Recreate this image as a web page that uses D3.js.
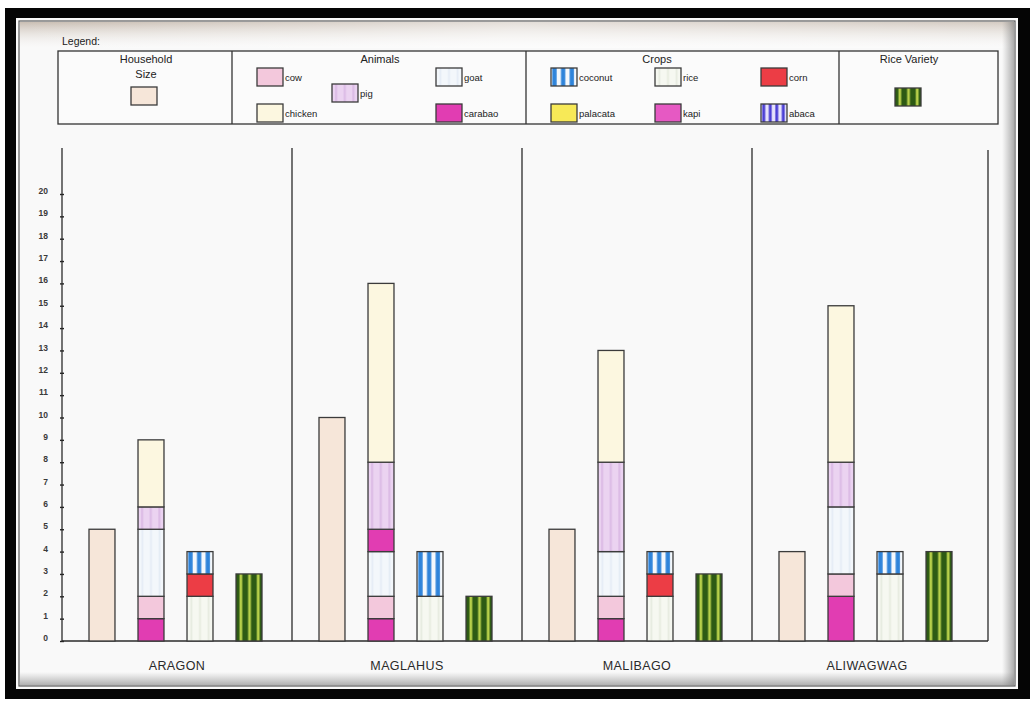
<!DOCTYPE html>
<html>
<head>
<meta charset="utf-8">
<script src="https://cdn.jsdelivr.net/npm/d3@7"></script>
<style>
  body { margin: 0; background: #fff; }
  svg { display: block; font-family: "Liberation Sans", Arial, sans-serif; }
</style>
</head>
<body>
<svg id="chart" width="1030" height="702"></svg>
<script>
// ---- data ----
const villages = ["ARAGON", "MAGLAHUS", "MALIBAGO", "ALIWAGWAG"];
const barKinds = ["household", "animals", "crops", "riceVariety"];

const householdSize = [5, 10, 5, 4];

// animals, stacked bottom to top
const carabao  = [1, 1, 1, 2];
const cow      = [1, 1, 1, 1];
const goat     = [3, 2, 2, 3];
const carabao2 = [0, 1, 0, 0];
const pig      = [1, 3, 4, 2];
const chicken  = [3, 8, 5, 7];

// crops, stacked bottom to top
const rice     = [2, 2, 2, 3];
const corn     = [1, 0, 1, 0];
const coconut  = [1, 2, 1, 1];
const palacata = [0, 0, 0, 0];
const kapi     = [0, 0, 0, 0];
const abaca    = [0, 0, 0, 0];

const riceVariety = [3, 2, 3, 4];

const yTicks = d3.range(0, 21);

const animalKeys = ["carabao", "cow", "goat", "carabao2", "pig", "chicken"];
const animalValues = { carabao, cow, goat, carabao2, pig, chicken };
const cropKeys = ["rice", "corn", "coconut", "palacata", "kapi", "abaca"];
const cropValues = { rice, corn, coconut, palacata, kapi, abaca };

// ---- styles ----
const fills = {
  household: "#f6e6d9",
  cow: "#f3c8dc",
  pig: "url(#pat-pig)",
  chicken: "#fcf7e0",
  goat: "url(#pat-goat)",
  carabao: "#e13db2",
  carabao2: "#e13db2",
  coconut: "url(#pat-coconut)",
  rice: "url(#pat-rice)",
  corn: "#ec3d45",
  palacata: "#f7e957",
  kapi: "#e659c3",
  abaca: "url(#pat-abaca)",
  riceVariety: "url(#pat-variety)"
};
const edge = "#3b3b3b";

const svg = d3.select("#chart");
const defs = svg.append("defs");

// vertical stripe pattern sized to each shape's bounding box
function stripes(id, bg, stripe, repeats, from, to) {
  const p = defs.append("pattern")
    .attr("id", id)
    .attr("patternUnits", "objectBoundingBox")
    .attr("patternContentUnits", "objectBoundingBox")
    .attr("width", 1 / repeats).attr("height", 1);
  p.append("rect").attr("width", 1 / repeats).attr("height", 1).attr("fill", bg);
  p.append("rect").attr("x", from / repeats).attr("width", (to - from) / repeats)
    .attr("height", 1).attr("fill", stripe);
}
stripes("pat-pig", "#ebd3f1", "#dcbce6", 3, 0.35, 0.6);
stripes("pat-goat", "#f3f7fb", "#e4ecf5", 3, 0.4, 0.6);
stripes("pat-rice", "#f6f8f1", "#e6ebdf", 3, 0.4, 0.6);
stripes("pat-coconut", "#f4f8fc", "#2f84da", 3, 0.15, 0.65);
stripes("pat-abaca", "#e6e2fb", "#4b3fd4", 4, 0.2, 0.65);
stripes("pat-variety", "#2d5a14", "#b7cf4a", 3, 0.4, 0.72);

// page background gradients
const topShade = defs.append("linearGradient").attr("id", "top-shade")
  .attr("x1", 0).attr("y1", 0).attr("x2", 0).attr("y2", 1);
topShade.append("stop").attr("offset", 0).attr("stop-color", "#b9aa9b").attr("stop-opacity", 0.75);
topShade.append("stop").attr("offset", 1).attr("stop-color", "#eeeae6").attr("stop-opacity", 0);

const topShadeX = defs.append("linearGradient").attr("id", "top-shade-x")
  .attr("x1", 0).attr("y1", 0).attr("x2", 1).attr("y2", 0);
topShadeX.append("stop").attr("offset", 0).attr("stop-color", "#fff").attr("stop-opacity", 0);
topShadeX.append("stop").attr("offset", 0.5).attr("stop-color", "#fff").attr("stop-opacity", 0.5);
topShadeX.append("stop").attr("offset", 1).attr("stop-color", "#fff").attr("stop-opacity", 0.2);

const botShade = defs.append("linearGradient").attr("id", "bot-shade")
  .attr("x1", 0).attr("y1", 0).attr("x2", 0).attr("y2", 1);
botShade.append("stop").attr("offset", 0).attr("stop-color", "#9a9a9a").attr("stop-opacity", 0);
botShade.append("stop").attr("offset", 1).attr("stop-color", "#8a8a8a").attr("stop-opacity", 0.7);

const sideShade = defs.append("linearGradient").attr("id", "side-shade")
  .attr("x1", 0).attr("y1", 0).attr("x2", 1).attr("y2", 0);
sideShade.append("stop").attr("offset", 0).attr("stop-color", "#888").attr("stop-opacity", 0);
sideShade.append("stop").attr("offset", 1).attr("stop-color", "#777").attr("stop-opacity", 0.6);

// ---- frame ----
svg.append("rect").attr("width", 1030).attr("height", 702).attr("fill", "#fff");
svg.append("rect").attr("x", 5).attr("y", 8).attr("width", 1025).attr("height", 691).attr("fill", "#050505");
svg.append("rect").attr("x", 17).attr("y", 19).attr("width", 1000).attr("height", 669)
  .attr("fill", "#f9f9f9").attr("stroke", "#fafafa").attr("stroke-width", 2);
svg.append("rect").attr("x", 19).attr("y", 21).attr("width", 996).attr("height", 665)
  .attr("fill", "none").attr("stroke", "#5a5a5a").attr("stroke-width", 1.2);
svg.append("rect").attr("x", 20).attr("y", 22).attr("width", 994).attr("height", 26).attr("fill", "url(#top-shade)");
svg.append("rect").attr("x", 20).attr("y", 22).attr("width", 994).attr("height", 26).attr("fill", "url(#top-shade-x)");
svg.append("rect").attr("x", 20).attr("y", 672).attr("width", 994).attr("height", 14).attr("fill", "url(#bot-shade)");
svg.append("rect").attr("x", 1002).attr("y", 22).attr("width", 12).attr("height", 664).attr("fill", "url(#side-shade)");

// ---- scales ----
const x = d3.scaleBand().domain(villages).range([62, 982]).padding(0);
const xInner = d3.scaleBand().domain(barKinds).range([27, 200]).paddingInner(0.47).paddingOuter(0);
const y = d3.scaleLinear().domain([0, 20]).range([641, 194]);

const plotTop = 148;
const rightEdge = x.range()[1] + 6;

// ---- axis & frame lines ----
const yAxis = d3.axisLeft(y).tickValues(yTicks).tickFormat(d3.format("d"))
  .tickSizeInner(2).tickSizeOuter(0).tickPadding(12);
const ag = svg.append("g").attr("transform", `translate(${x.range()[0]},0)`).call(yAxis);
ag.select(".domain").remove();
ag.selectAll(".tick line").attr("stroke", "#222").attr("stroke-width", 1.4).attr("x2", 2).attr("x1", -2);
ag.selectAll(".tick text").attr("fill", "#3a3a3a").attr("font-size", 8.5).attr("font-weight", "bold")
  .attr("dy", "-0.05em");

const lines = svg.append("g").attr("stroke", "#2a2a2a").attr("stroke-width", 1.3).attr("fill", "none");
lines.append("line").attr("x1", x.range()[0]).attr("x2", x.range()[0]).attr("y1", plotTop).attr("y2", y(0));
lines.append("line").attr("x1", x.range()[0]).attr("x2", rightEdge).attr("y1", y(0)).attr("y2", y(0));
villages.slice(1).forEach(v => {
  lines.append("line").attr("x1", x(v)).attr("x2", x(v)).attr("y1", plotTop).attr("y2", y(0));
});
lines.append("line").attr("x1", rightEdge).attr("x2", rightEdge).attr("y1", plotTop + 2).attr("y2", y(0));

// ---- bars ----
const bw = xInner.bandwidth();
const rows = villages.map((v, i) => {
  const r = { village: v };
  animalKeys.forEach(k => r[k] = animalValues[k][i]);
  cropKeys.forEach(k => r[k] = cropValues[k][i]);
  return r;
});

function drawStack(kind, keys) {
  const series = d3.stack().keys(keys)(rows);
  const g = svg.append("g");
  series.forEach(s => {
    g.selectAll(null).data(s.filter(d => d[1] > d[0])).join("rect")
      .attr("x", d => x(d.data.village) + xInner(kind))
      .attr("y", d => y(d[1]))
      .attr("width", bw)
      .attr("height", d => y(d[0]) - y(d[1]))
      .attr("fill", fills[s.key])
      .attr("stroke", edge).attr("stroke-width", 1.3);
  });
}

function drawSimple(kind, values) {
  svg.append("g").selectAll("rect").data(values).join("rect")
    .attr("x", (d, i) => x(villages[i]) + xInner(kind))
    .attr("y", d => y(d))
    .attr("width", bw)
    .attr("height", d => y(0) - y(d))
    .attr("fill", fills[kind])
    .attr("stroke", edge).attr("stroke-width", 1.3);
}

drawSimple("household", householdSize);
drawStack("animals", animalKeys);
drawStack("crops", cropKeys);
drawSimple("riceVariety", riceVariety);

// village names
svg.append("g").selectAll("text").data(villages).join("text")
  .attr("x", d => x(d) + x.bandwidth() / 2)
  .attr("y", 670)
  .attr("text-anchor", "middle")
  .attr("font-size", 12.5)
  .attr("letter-spacing", 0.4)
  .attr("fill", "#2a2a2a")
  .text(d => d);

// ---- legend ----
const lg = svg.append("g");
lg.append("text").attr("x", 62).attr("y", 45).attr("font-size", 10.5).attr("fill", "#222").text("Legend:");
lg.append("rect").attr("x", 58).attr("y", 51).attr("width", 940).attr("height", 73)
  .attr("fill", "#fbfbfb").attr("stroke", "#333").attr("stroke-width", 1.3);
[232, 526, 839].forEach(px => lg.append("line").attr("x1", px).attr("x2", px).attr("y1", 51).attr("y2", 124)
  .attr("stroke", "#333").attr("stroke-width", 1.3));

const sectionTitles = [
  { lines: ["Household", "Size"], cx: 146 },
  { lines: ["Animals"], cx: 380 },
  { lines: ["Crops"], cx: 657 },
  { lines: ["Rice Variety"], cx: 909 }
];
sectionTitles.forEach(s => {
  s.lines.forEach((t, j) => {
    lg.append("text").attr("x", s.cx).attr("y", 63 + j * 15).attr("text-anchor", "middle")
      .attr("font-size", 11).attr("fill", "#222").text(t);
  });
});

const legendItems = [
  { key: "household", label: "", x: 131, y: 87 },
  { key: "cow", label: "cow", x: 257, y: 68 },
  { key: "pig", label: "pig", x: 332, y: 84 },
  { key: "chicken", label: "chicken", x: 257, y: 104 },
  { key: "goat", label: "goat", x: 436, y: 68 },
  { key: "carabao", label: "carabao", x: 436, y: 104 },
  { key: "coconut", label: "coconut", x: 551, y: 68 },
  { key: "rice", label: "rice", x: 655, y: 68 },
  { key: "corn", label: "corn", x: 761, y: 68 },
  { key: "palacata", label: "palacata", x: 551, y: 104 },
  { key: "kapi", label: "kapi", x: 655, y: 104 },
  { key: "abaca", label: "abaca", x: 761, y: 104 },
  { key: "riceVariety", label: "", x: 895, y: 88 }
];
legendItems.forEach(it => {
  lg.append("rect").attr("x", it.x).attr("y", it.y).attr("width", 26).attr("height", 18)
    .attr("fill", fills[it.key]).attr("stroke", edge).attr("stroke-width", 1.3);
  if (it.label) {
    lg.append("text").attr("x", it.x + 28).attr("y", it.y + 13).attr("font-size", 9.5)
      .attr("fill", "#222").text(it.label);
  }
});
</script>
</body>
</html>
